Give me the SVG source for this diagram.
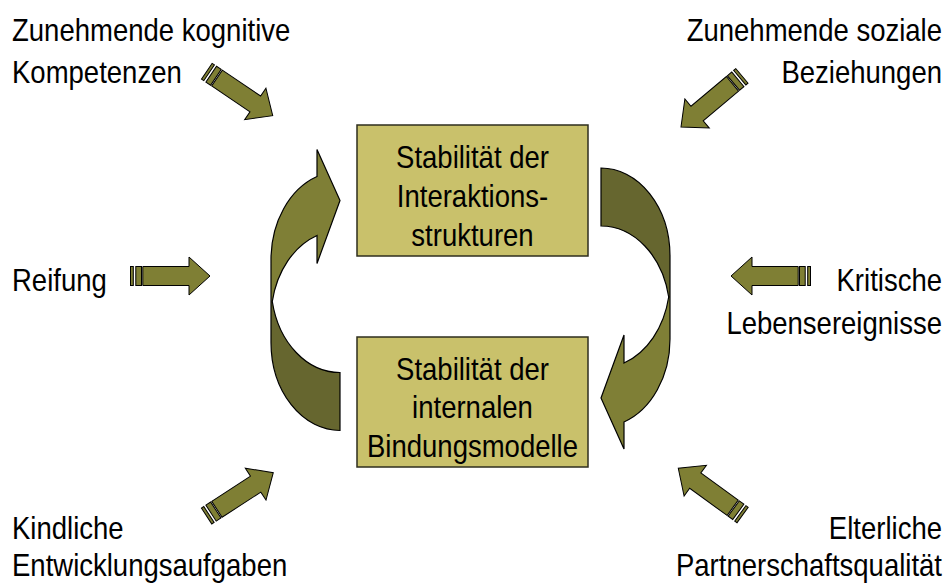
<svg xmlns="http://www.w3.org/2000/svg" xmlns:xlink="http://www.w3.org/1999/xlink" width="952" height="583" viewBox="0 0 952 583">
  <style>
    .lbl { font-family: "Liberation Sans", Arial, sans-serif; font-size: 32px; fill: #000; }
    .mid { text-anchor: middle; }
    .end { text-anchor: end; }
    .box { fill: #C9C16B; stroke: #2E2E1E; stroke-width: 1.5; }
    .olive { fill: #7F7F34; stroke: #000; stroke-width: 1; stroke-linejoin: miter; }
    .light { fill: #7F7F36; stroke: none; }
    .dark { fill: #66662F; stroke: none; }
    .outline { fill: none; stroke: #000; stroke-width: 1.2; }
  </style>
  <defs>
    <!-- striped block arrow, tail at x=0, pointing along +x -->
    <g id="striped">
      <rect class="olive" x="0" y="-9.5" width="2.8" height="19"/>
      <rect class="olive" x="5.3" y="-9.5" width="5.7" height="19"/>
      <polygon class="olive" points="12.3,-9.5 58.5,-9.5 58.5,-19 79.5,0 58.5,19 58.5,9.5 12.3,9.5"/>
    </g>
    <!-- curved arrow: tail at top-left, bulging right, head pointing left at the bottom -->
    <g id="curved">
      <path class="dark" d="M601,168 A69 88 0 0 1 670,256 L670,297 L668.7,297 A69 88 0 0 0 601,226 Z"/>
      <path class="light" d="M668.7,297 L670,297 L670,339 A69 88 0 0 1 624,422 L624,449 L601,398 L624,335 L624,363 A69 88 0 0 0 668.7,297 Z"/>
      <path class="outline" d="M601,168 A69 88 0 0 1 670,256 L670,339 A69 88 0 0 1 624,422 L624,449 L601,398 L624,335 L624,363 A69 88 0 0 0 668.7,297 A69 88 0 0 0 601,226 Z"/>
    </g>
  </defs>

  <g id="connectors">
    <use id="cycle-down" xlink:href="#curved" href="#curved"/>
    <use id="cycle-up" xlink:href="#curved" href="#curved" transform="rotate(180 470.5 299.25)"/>
    <use id="in-kognitiv" xlink:href="#striped" href="#striped" transform="translate(206.8,71.2) rotate(34)"/>
    <use id="in-sozial" xlink:href="#striped" href="#striped" transform="translate(741.9,75.9) rotate(140)"/>
    <use id="in-reifung" xlink:href="#striped" href="#striped" transform="translate(130.5,276)"/>
    <use id="in-kritisch" xlink:href="#striped" href="#striped" transform="translate(810.5,276) rotate(180)"/>
    <use id="in-kindlich" xlink:href="#striped" href="#striped" transform="translate(206.6,516) rotate(-33)"/>
    <use id="in-partner" xlink:href="#striped" href="#striped" transform="translate(742.6,515) rotate(-144)"/>
  </g>

  <!-- labels use a narrowed Liberation Sans: 32px tall, squeezed to 86% width -->
  <g id="interaktion">
    <rect class="box" x="357" y="125" width="231" height="131"/>
    <text class="lbl mid" transform="translate(472.5,168) scale(0.86,1)">Stabilität der</text>
    <text class="lbl mid" transform="translate(472.5,207) scale(0.86,1)">Interaktions-</text>
    <text class="lbl mid" transform="translate(472.5,246) scale(0.86,1)">strukturen</text>
  </g>

  <g id="bindung">
    <rect class="box" x="357" y="337" width="231" height="130"/>
    <text class="lbl mid" transform="translate(472.5,380) scale(0.86,1)">Stabilität der</text>
    <text class="lbl mid" transform="translate(472.5,418) scale(0.86,1)">internalen</text>
    <text class="lbl mid" transform="translate(472.5,457) scale(0.86,1)">Bindungsmodelle</text>
  </g>

  <g id="kognitiv">
    <text class="lbl" transform="translate(12,41) scale(0.86,1)">Zunehmende kognitive</text>
    <text class="lbl" transform="translate(12,83) scale(0.86,1)">Kompetenzen</text>
  </g>
  <g id="sozial">
    <text class="lbl end" transform="translate(942,41) scale(0.86,1)">Zunehmende soziale</text>
    <text class="lbl end" transform="translate(942,83) scale(0.86,1)">Beziehungen</text>
  </g>
  <g id="reifung">
    <text class="lbl" transform="translate(12,291) scale(0.86,1)">Reifung</text>
  </g>
  <g id="kritisch">
    <text class="lbl end" transform="translate(942,291) scale(0.86,1)">Kritische</text>
    <text class="lbl end" transform="translate(942,334) scale(0.86,1)">Lebensereignisse</text>
  </g>
  <g id="kindlich">
    <text class="lbl" transform="translate(12,539) scale(0.86,1)">Kindliche</text>
    <text class="lbl" transform="translate(12,576) scale(0.86,1)">Entwicklungsaufgaben</text>
  </g>
  <g id="partner">
    <text class="lbl end" transform="translate(942,539) scale(0.86,1)">Elterliche</text>
    <text class="lbl end" transform="translate(942,576) scale(0.86,1)">Partnerschaftsqualität</text>
  </g>
</svg>
